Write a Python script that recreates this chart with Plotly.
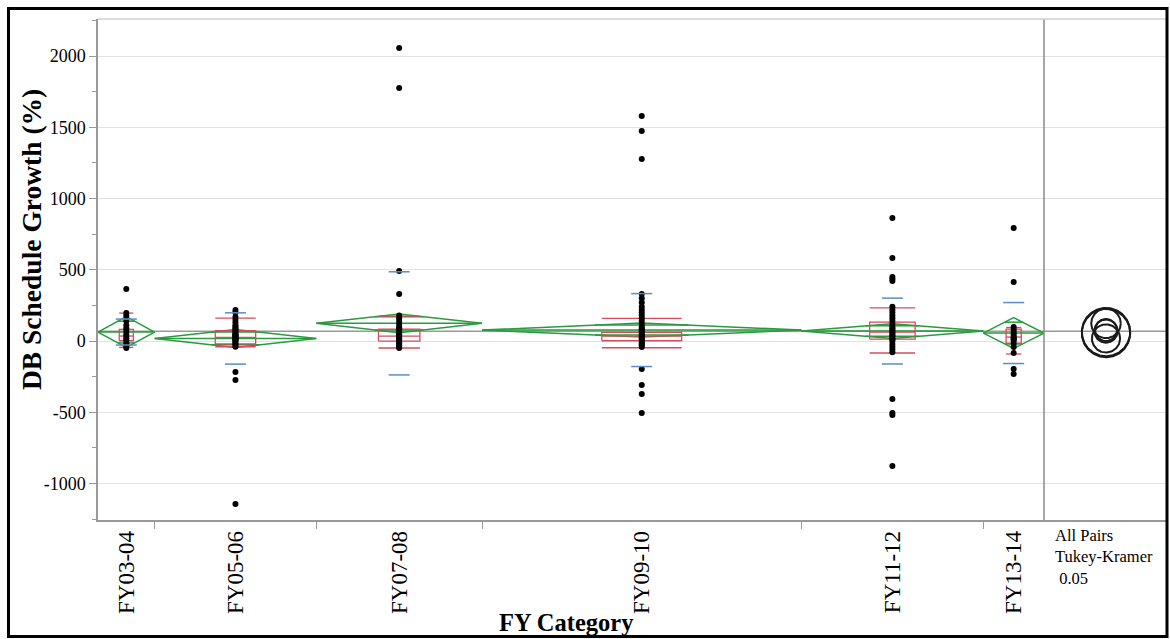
import numpy as np
import plotly.graph_objects as go

# ---------------- data ----------------
categories = ["FY03-04", "FY05-06", "FY07-08", "FY09-10", "FY11-12", "FY13-14"]
group_n = [14, 40, 41, 79, 45, 15]

fy0304 = [365, 196, 175, 140, 110, 90, 70, 50, 35, 20, 5, -15, -35, -49]
fy0506 = [218, 200, 168, 150, 130, 110, 100, 90, 80, 70, 60, 50, 45, 40, 35, 30,
          25, 20, 15, 10, 5, 0, -10, -20, -28, -40, -218, -274, -1144]
fy0708 = [2056, 1776, 491, 330, 180, 160, 140, 120, 100, 90, 80, 70, 60, 50, 40,
          30, 20, 10, 0, -10, -20, -30, -40, -49]
fy0910 = [1579, 1474, 1277, 330, 300, 270, 240, 220, 200, 180, 160, 140, 120, 100,
          90, 80, 70, 60, 50, 40, 30, 20, 10, 0, -10, -20, -30, -42, -196, -309,
          -372, -505]
fy1112 = [863, 582, 449, 435, 421, 240, 220, 200, 180, 160, 140, 120, 100, 90, 80,
          70, 60, 50, 40, 30, 20, 10, 0, -20, -40, -60, -78, -407, -505, -519, -877]
fy1314 = [793, 414, 98, 80, 60, 45, 30, 20, 10, 0, -20, -42, -84, -196, -232]
group_values = [fy0304, fy0506, fy0708, fy0910, fy1112, fy1314]

means = [63, 18, 124, 77, 70, 56]
ci_half = [108, 63, 66, 49, 52, 108]
sds = [91, 180, 362, 256, 231, 214]
q1 = [2, -20, 0, 2, 14, -14]
medians = [35, 25, 35, 35, 63, 28]
q3 = [82, 72, 84, 61, 133, 84]
whisk_lo = [-45, -40, -49, -47, -84, -91]
whisk_hi = [196, 161, 175, 159, 232, 95]
grand_mean = 68
tukey_factor = 1.57

y_ticks = [-1000, -500, 0, 500, 1000, 1500, 2000]
y_tick_text = ["-1000", "-500", "0", "500", "1000", "1500", "2000"]

# ---------------- layout geometry ----------------
W, H = 1170, 639
PL, PR, PX = 98, 1044, 1168      # plot left, divider, panel right (px)
PT, PB = 19, 520                 # plot top / bottom (px)
Y_RANGE = [-1256, 2260]

def fx(px):
    return px / W

def fy(py):
    return (H - py) / H

N = sum(group_n)
edges = np.concatenate([[0], np.cumsum(group_n)])
centers = (edges[:-1] + edges[1:]) / 2
x_units_per_px = N / (PR - PL)
y_units_per_px = (Y_RANGE[1] - Y_RANGE[0]) / (PB - PT)

GREEN = "rgb(40,155,60)"
RED = "rgb(215,75,95)"
BLUE = "rgb(90,140,205)"

fig = go.Figure()

# mean diamonds
for c, n, m, h in zip(centers, group_n, means, ci_half):
    w = n / 2
    ov = h / np.sqrt(2)
    ow = w * (1 - 1 / np.sqrt(2))
    xs = [c - w, c, c + w, c, c - w, None, c - w, c + w, None,
          c - ow, c + ow, None, c - ow, c + ow]
    ys = [m, m + h, m, m - h, m, None, m, m, None,
          m + ov, m + ov, None, m - ov, m - ov]
    fig.add_trace(go.Scatter(x=xs, y=ys, mode="lines", line=dict(color=GREEN, width=1.5),
                             hoverinfo="skip", showlegend=False))

# outlier box plots
for c, n, a, md, b, lo, hi in zip(centers, group_n, q1, medians, q3, whisk_lo, whisk_hi):
    bw = n / 8
    xs = [c - bw, c + bw, c + bw, c - bw, c - bw, None,
          c - bw, c + bw, None,
          c, c, None, c, c, None,
          c - bw, c + bw, None, c - bw, c + bw]
    ys = [a, a, b, b, a, None,
          md, md, None,
          b, hi, None, a, lo, None,
          hi, hi, None, lo, lo]
    fig.add_trace(go.Scatter(x=xs, y=ys, mode="lines", line=dict(color=RED, width=1.3),
                             hoverinfo="skip", showlegend=False))

# data points
for c, vals in zip(centers, group_values):
    fig.add_trace(go.Scatter(x=[c] * len(vals), y=vals, mode="markers",
                             marker=dict(color="black", size=6),
                             hoverinfo="skip", showlegend=False))

# standard deviation lines
sd_half = 10.5 * x_units_per_px
for c, m, s in zip(centers, means, sds):
    fig.add_trace(go.Scatter(x=[c - sd_half, c + sd_half, None, c - sd_half, c + sd_half],
                             y=[m + s, m + s, None, m - s, m - s], mode="lines",
                             line=dict(color=BLUE, width=1.5),
                             hoverinfo="skip", showlegend=False))

# comparison circles (right panel)
panel_half = (PX - PR) / 2 * y_units_per_px
t = np.linspace(0, 2 * np.pi, 181)
for m, h in zip(means, ci_half):
    r = h * tukey_factor
    fig.add_trace(go.Scatter(x=r * np.cos(t), y=m + r * np.sin(t), mode="lines",
                             line=dict(color="#1a1a1a", width=2), xaxis="x3", yaxis="y",
                             hoverinfo="skip", showlegend=False))

SERIF = "Liberation Serif"

fig.update_layout(
    width=W, height=H,
    margin=dict(l=0, r=0, t=0, b=0),
    paper_bgcolor="white", plot_bgcolor="white",
    xaxis=dict(
        domain=[fx(PL), fx(PR)], range=[0, N], anchor="y",
        tickmode="array", tickvals=list(centers), ticktext=categories,
        ticks="", tickangle=-90, ticklabelstandoff=0,
        tickfont=dict(family=SERIF, size=23, color="black"),
        minor=dict(tickmode="array", tickvals=list(edges[1:-1]), ticks="outside",
                   ticklen=7, tickcolor="#999", tickwidth=1, showgrid=False),
        showline=True, linecolor="#999", linewidth=1.5,
        showgrid=False, zeroline=False,
    ),
    xaxis3=dict(
        domain=[fx(PR), fx(PX)], range=[-panel_half, panel_half], anchor="y",
        showticklabels=False, ticks="", showgrid=False, zeroline=False,
        showline=True, linecolor="#999", linewidth=1.5,
    ),
    yaxis=dict(
        domain=[fy(PB), fy(PT)], range=Y_RANGE, anchor="x",
        tickmode="array", tickvals=y_ticks, ticktext=y_tick_text,
        ticks="outside", ticklen=7, tickcolor="#999", tickwidth=1,
        minor=dict(dtick=250, tick0=0, ticks="outside", ticklen=4, tickcolor="#999",
                   showgrid=False),
        tickfont=dict(family=SERIF, size=18, color="black"),
        gridcolor="#e2e2e2", gridwidth=1.2,
        showline=True, linecolor="#999", linewidth=1.5, zeroline=False,
    ),
    shapes=[
        dict(type="line", xref="paper", yref="y", x0=fx(PL), x1=fx(PX),
             y0=grand_mean, y1=grand_mean, line=dict(color="#9a9a9a", width=1.5),
             layer="below"),
        dict(type="line", xref="paper", yref="paper", x0=fx(PR), x1=fx(PR),
             y0=fy(PB), y1=fy(PT), line=dict(color="#8a8a8a", width=1.5)),
        dict(type="line", xref="paper", yref="paper", x0=fx(PL), x1=fx(PX),
             y0=fy(PT), y1=fy(PT), line=dict(color="#cfcfcf", width=1.5)),
        dict(type="rect", xref="paper", yref="paper", x0=fx(8.5), x1=fx(1167),
             y0=fy(636.5), y1=fy(8.5), line=dict(color="black", width=3)),
    ],
    annotations=[
        dict(text="<b>DB Schedule Growth (%)</b>", xref="paper", yref="paper",
             x=fx(31), y=fy(240), textangle=-90, showarrow=False,
             xanchor="center", yanchor="middle",
             font=dict(family=SERIF, size=27.5, color="black")),
        dict(text="<b>FY Category</b>", xref="paper", yref="paper",
             x=fx(566), y=fy(622), showarrow=False, xanchor="center", yanchor="middle",
             font=dict(family=SERIF, size=24.5, color="black")),
        dict(text="All Pairs<br>Tukey-Kramer<br>\u00a00.05", xref="paper", yref="paper",
             x=fx(1053), y=fy(524), showarrow=False, xanchor="left", yanchor="top",
             align="left", font=dict(family=SERIF, size=16.5, color="black")),
    ],
)

fig.write_html("out.html")
